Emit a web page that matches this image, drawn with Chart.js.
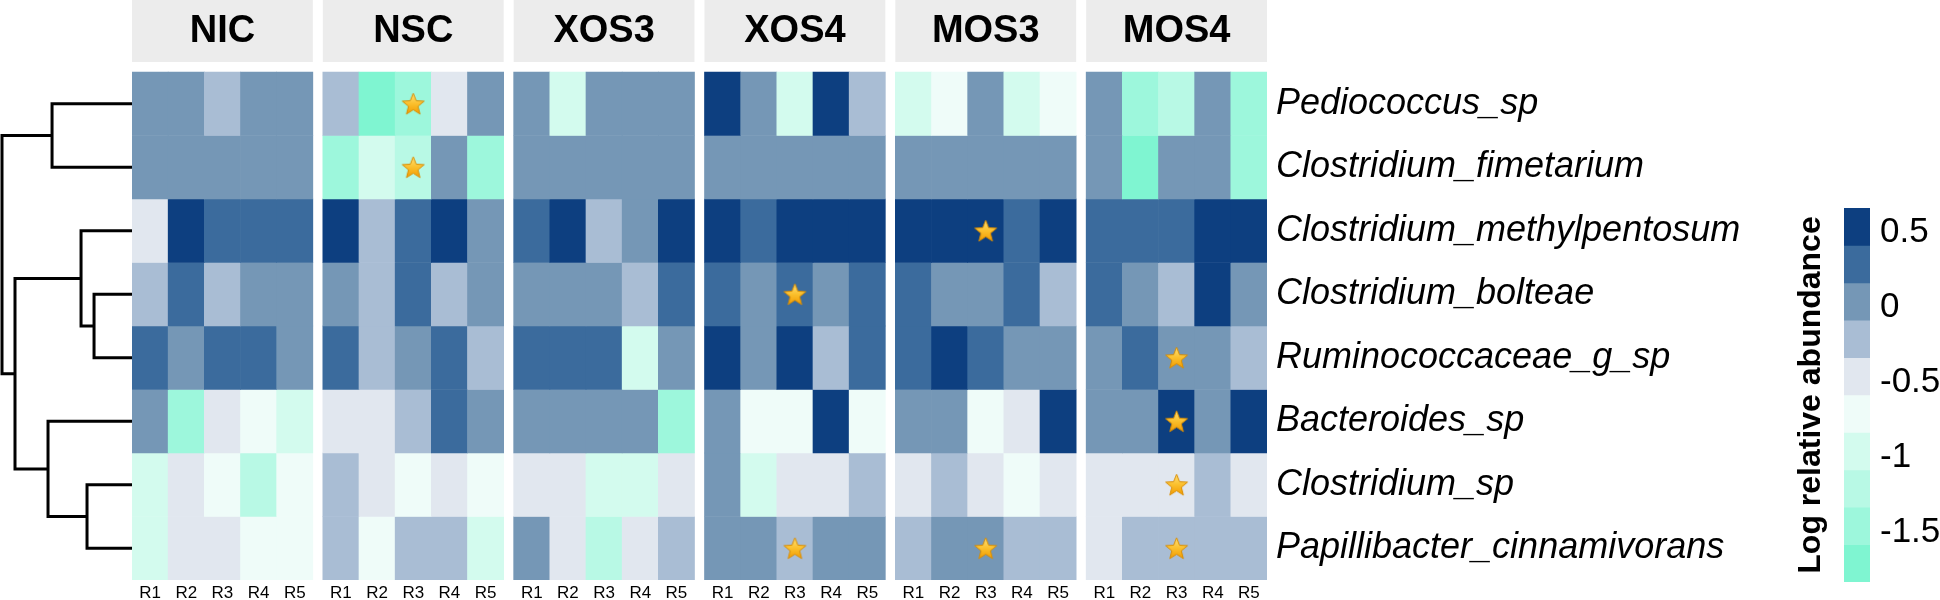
<!DOCTYPE html>
<html><head><meta charset="utf-8">
<script src="https://cdn.jsdelivr.net/npm/chart.js@4.4.1/dist/chart.umd.min.js"></script>
<style>
html,body{margin:0;padding:0;background:#fff;}
#wrap{position:relative;width:1940px;height:600px;overflow:hidden;background:#fff;}
canvas{position:absolute;top:0;}
</style></head><body>
<div id="wrap">
<canvas id="dend" width="132" height="600" style="left:0"></canvas>
<canvas id="heat" width="1628" height="600" style="left:132px"></canvas>
<canvas id="cbar" width="160" height="600" style="left:1780px"></canvas>
</div>
<script>
// ---------------- data ----------------
const panels = ['NIC', 'NSC', 'XOS3', 'XOS4', 'MOS3', 'MOS4'];
const replicates = ['R1', 'R2', 'R3', 'R4', 'R5'];
const taxa = ['Pediococcus_sp', 'Clostridium_fimetarium', 'Clostridium_methylpentosum',
  'Clostridium_bolteae', 'Ruminococcaceae_g_sp', 'Bacteroides_sp', 'Clostridium_sp',
  'Papillibacter_cinnamivorans'];

// log relative abundance, rows = taxa, columns = R1..R5
const valNIC = [
  [0.04, 0.06, -0.18, 0.03, 0.05],
  [0.02, 0.04, 0.07, 0.05, 0.03],
  [-0.44, 0.52, 0.28, 0.31, 0.27],
  [-0.21, 0.33, -0.19, 0.06, 0.01],
  [0.29, 0.04, 0.32, 0.26, 0.08],
  [0.03, -1.42, -0.47, -0.72, -0.93],
  [-0.95, -0.46, -0.69, -1.18, -0.74],
  [-0.97, -0.43, -0.48, -0.71, -0.68]
];
const valNSC = [
  [-0.22, -1.68, -1.44, -0.46, 0.05],
  [-1.47, -0.96, -1.21, 0.02, -1.43],
  [0.58, -0.17, 0.31, 0.55, 0.07],
  [0.04, -0.23, 0.34, -0.19, 0.02],
  [0.27, -0.21, 0.06, 0.33, -0.24],
  [-0.42, -0.45, -0.16, 0.29, 0.08],
  [-0.24, -0.47, -0.73, -0.43, -0.76],
  [-0.18, -0.71, -0.22, -0.20, -0.97]
];
const valXOS3 = [
  [0.05, -0.94, 0.03, 0.06, 0.04],
  [0.02, 0.05, 0.04, 0.03, 0.06],
  [0.29, 0.56, -0.21, 0.07, 0.60],
  [0.03, 0.05, 0.02, -0.22, 0.30],
  [0.31, 0.28, 0.33, -0.98, 0.05],
  [0.04, 0.02, 0.06, 0.03, -1.46],
  [-0.44, -0.47, -0.92, -0.97, -0.43],
  [0.07, -0.45, -1.19, -0.48, -0.20]
];
const valXOS4 = [
  [0.57, 0.04, -0.93, 0.61, -0.18],
  [0.05, 0.03, 0.06, 0.04, 0.02],
  [0.55, 0.30, 0.59, 0.53, 0.57],
  [0.28, 0.06, 0.32, 0.04, 0.27],
  [0.54, 0.03, 0.58, -0.21, 0.30],
  [0.06, -0.73, -0.69, 0.60, -0.72],
  [0.02, -0.96, -0.44, -0.46, -0.19],
  [0.04, 0.07, -0.23, 0.05, 0.03]
];
const valMOS3 = [
  [-0.91, -0.74, 0.05, -0.95, -0.70],
  [0.03, 0.06, 0.04, 0.02, 0.05],
  [0.56, 0.59, 0.62, 0.31, 0.55],
  [0.29, 0.04, 0.07, 0.26, -0.20],
  [0.33, 0.57, 0.28, 0.03, 0.06],
  [0.05, 0.02, -0.71, -0.46, 0.58],
  [-0.43, -0.21, -0.47, -0.73, -0.45],
  [-0.19, 0.06, 0.03, -0.22, -0.20]
];
const valMOS4 = [
  [0.04, -1.44, -1.22, 0.05, -1.47],
  [0.06, -1.70, 0.03, 0.04, -1.45],
  [0.30, 0.27, 0.33, 0.60, 0.56],
  [0.28, 0.05, -0.20, 0.61, 0.02],
  [0.07, 0.31, 0.04, 0.06, -0.21],
  [0.03, 0.05, 0.57, 0.02, 0.59],
  [-0.45, -0.48, -0.44, -0.18, -0.46],
  [-0.47, -0.20, -0.23, -0.19, -0.21]
];
const panelValues = [valNIC, valNSC, valXOS3, valXOS4, valMOS3, valMOS4];

// significance stars: [panel, replicate, taxon]
const stars = [[1, 2, 0], [1, 2, 1], [3, 2, 3], [3, 2, 7], [4, 2, 2], [4, 2, 7],
  [5, 2, 4], [5, 2, 5], [5, 2, 6], [5, 2, 7]];

// row dendrogram (hclust-style merge list: negative = leaf/row number, positive = earlier merge)
const dendMerge = [[-1, -2], [-4, -5], [-3, 2], [-7, -8], [-6, 4], [3, 5], [1, 6]];
const dendHeight = [0.615, 0.292, 0.392, 0.346, 0.646, 0.90, 1.00];

// colour legend (binned)
const legendBreaks = [0.665, 0.415, 0.165, -0.085, -0.335, -0.585, -0.835, -1.085, -1.335, -1.585, -1.835];
const legendColors = ['#0d3f80', '#3b6b9d', '#7597b6', '#a9bdd4', '#e1e7ef',
  '#effcf9', '#d3fbee', '#b8f9e5', '#9df7dc', '#7ff5d1'];
const legendTicks = [0.5, 0, -0.5, -1, -1.5];

// ---------------- layout constants ----------------
const GAP = 0.2765;                 // gap between facets, in cell units
const STRIP_TOP = -72 / 63.5;       // strip area above the rows, in row units
const STRIP_BOTTOM = -10 / 63.5;
const FONT = '"Liberation Sans", Arial, Helvetica, sans-serif';
Chart.defaults.font.family = FONT;
Chart.defaults.color = '#000';

function colX(p, c) { return p * (5 + GAP) + c + 0.5; }
function panelX(p) { return p * (5 + GAP) + 2.5; }
function colorFor(v) {
  for (let i = 0; i < legendColors.length; i++) {
    if (v >= legendBreaks[i + 1]) return legendColors[i];
  }
  return legendColors[legendColors.length - 1];
}
function noPad(axis) {
  axis.paddingTop = 0; axis.paddingBottom = 0; axis.paddingLeft = 0; axis.paddingRight = 0;
}
const noGrid = { display: false, drawTicks: false, offset: false };

// ---------------- dendrogram ----------------
(function () {
  const nodes = [];
  function info(id) {
    if (id < 0) return { y: -id - 1 + 0.5, h: 0 };
    return nodes[id - 1];
  }
  const segs = [];
  dendMerge.forEach((m, i) => {
    const a = info(m[0]), b = info(m[1]), h = dendHeight[i];
    segs.push([{ x: a.h, y: a.y }, { x: h, y: a.y }, { x: h, y: b.y }, { x: b.h, y: b.y }]);
    nodes.push({ y: (a.y + b.y) / 2, h: h });
  });
  new Chart(document.getElementById('dend'), {
    type: 'line',
    data: {
      datasets: segs.map(pts => ({
        data: pts, borderColor: '#000', borderWidth: 3, pointRadius: 0, fill: false,
        tension: 0, clip: false, borderCapStyle: 'butt', borderJoinStyle: 'miter'
      }))
    },
    options: {
      responsive: false, animation: false, events: [],
      layout: { padding: { left: 2, right: 0, top: 72, bottom: 20 }, autoPadding: false },
      plugins: { legend: { display: false }, tooltip: { enabled: false } },
      scales: {
        x: { type: 'linear', min: 0, max: 1, reverse: true, display: false, offset: false },
        y: { type: 'linear', min: 0, max: 8, reverse: true, display: false, offset: false }
      }
    }
  });
})();

// ---------------- heatmap ----------------
function makeStar() {
  const s = 25, c = document.createElement('canvas');
  c.width = s; c.height = s;
  const g = c.getContext('2d');
  const cx = s / 2, cy = s / 2 + 1, R = 11.5, r = 5;
  g.beginPath();
  for (let k = 0; k < 10; k++) {
    const ang = -Math.PI / 2 + k * Math.PI / 5;
    const rad = k % 2 ? r : R;
    g.lineTo(cx + rad * Math.cos(ang), cy + rad * Math.sin(ang));
  }
  g.closePath();
  const gr = g.createLinearGradient(0, 2, 0, s - 2);
  gr.addColorStop(0, '#ffe27a'); gr.addColorStop(0.5, '#fbc02d'); gr.addColorStop(1, '#f29b00');
  g.fillStyle = gr; g.fill();
  g.strokeStyle = '#d98c00'; g.lineWidth = 1; g.lineJoin = 'round'; g.stroke();
  return c;
}

const rowDatasets = taxa.map((t, r) => {
  const data = [], colors = [];
  panelValues.forEach((vals, p) => {
    vals[r].forEach((v, c) => {
      data.push({ x: colX(p, c), y: [r, r + 1] });
      colors.push(colorFor(v));
    });
  });
  return {
    type: 'bar', data: data, backgroundColor: colors, borderWidth: 0,
    grouped: false, barPercentage: 1, categoryPercentage: 1
  };
});

const stripDataset = {
  type: 'bar',
  data: panels.map((p, i) => ({ x: panelX(i), y: [STRIP_TOP, STRIP_BOTTOM] })),
  backgroundColor: '#ececec', borderWidth: 0,
  grouped: false, barPercentage: 5, categoryPercentage: 1
};

const starDataset = {
  type: 'scatter',
  data: stars.map(s => ({ x: colX(s[0], s[1]), y: s[2] + 0.5 })),
  pointStyle: makeStar(), pointRadius: 11, order: -1, clip: false
};

const stripLabels = {
  id: 'stripLabels',
  afterDatasetsDraw(chart) {
    const meta = chart.getDatasetMeta(0);
    const ctx = chart.ctx;
    ctx.save();
    ctx.font = 'bold 38px ' + FONT;
    ctx.fillStyle = '#000';
    ctx.textAlign = 'center';
    ctx.textBaseline = 'middle';
    meta.data.forEach((el, i) => ctx.fillText(panels[i], el.x, (el.y + el.base) / 2 + 1));
    ctx.restore();
  }
};

new Chart(document.getElementById('heat'), {
  type: 'bar',
  data: { datasets: [stripDataset, starDataset].concat(rowDatasets) },
  plugins: [stripLabels],
  options: {
    responsive: false, animation: false, events: [],
    layout: { padding: 0, autoPadding: false },
    plugins: { legend: { display: false }, tooltip: { enabled: false } },
    scales: {
      x: {
        type: 'linear', position: 'bottom', min: 0, max: 30 + 5 * GAP, offset: false,
        grid: noGrid, border: { display: false },
        ticks: {
          autoSkip: false, maxRotation: 0, minRotation: 0, padding: 3,
          font: { size: 17 }, color: '#000',
          callback: (v, i) => replicates[i % 5]
        },
        afterBuildTicks(axis) {
          const t = [];
          panels.forEach((p, pi) => replicates.forEach((r, ci) => t.push({ value: colX(pi, ci) })));
          axis.ticks = t;
        },
        afterFit(axis) { axis.height = 20; noPad(axis); }
      },
      y: {
        type: 'linear', position: 'right', reverse: true, min: STRIP_TOP, max: 8, offset: false,
        grid: noGrid, border: { display: false },
        ticks: {
          autoSkip: false, padding: 9, color: '#000',
          font: { size: 36, style: 'italic' },
          callback: (v, i) => taxa[i]
        },
        afterBuildTicks(axis) { axis.ticks = taxa.map((t, i) => ({ value: i + 0.5 })); },
        afterFit(axis) { axis.width = 493; noPad(axis); }
      }
    }
  }
});

// ---------------- colour bar ----------------
new Chart(document.getElementById('cbar'), {
  type: 'bar',
  data: {
    labels: [''],
    datasets: legendColors.map((c, i) => ({
      data: [[legendBreaks[i + 1], legendBreaks[i]]], backgroundColor: c, borderWidth: 0,
      grouped: false, barPercentage: 1, categoryPercentage: 1, yAxisID: 'y'
    }))
  },
  options: {
    responsive: false, animation: false, events: [],
    layout: { padding: { top: 208, bottom: 18, left: 0, right: 0 }, autoPadding: false },
    plugins: { legend: { display: false }, tooltip: { enabled: false } },
    scales: {
      x: { display: false },
      yl: {
        type: 'linear', position: 'left', min: legendBreaks[legendBreaks.length - 1], max: legendBreaks[0],
        grid: noGrid, border: { display: false }, ticks: { display: false },
        title: {
          display: true, text: 'Log relative abundance', color: '#000',
          font: { size: 32, weight: 'bold' }, padding: { top: 12, bottom: 0 }
        },
        afterFit(axis) { axis.width = 64; noPad(axis); }
      },
      y: {
        type: 'linear', position: 'right', min: legendBreaks[legendBreaks.length - 1], max: legendBreaks[0],
        grid: noGrid, border: { display: false },
        ticks: { padding: 10, color: '#000', font: { size: 35 }, callback: v => String(v) },
        afterBuildTicks(axis) { axis.ticks = legendTicks.map(v => ({ value: v })); },
        afterFit(axis) { axis.width = 70; noPad(axis); }
      }
    }
  }
});
</script>
</body></html>
